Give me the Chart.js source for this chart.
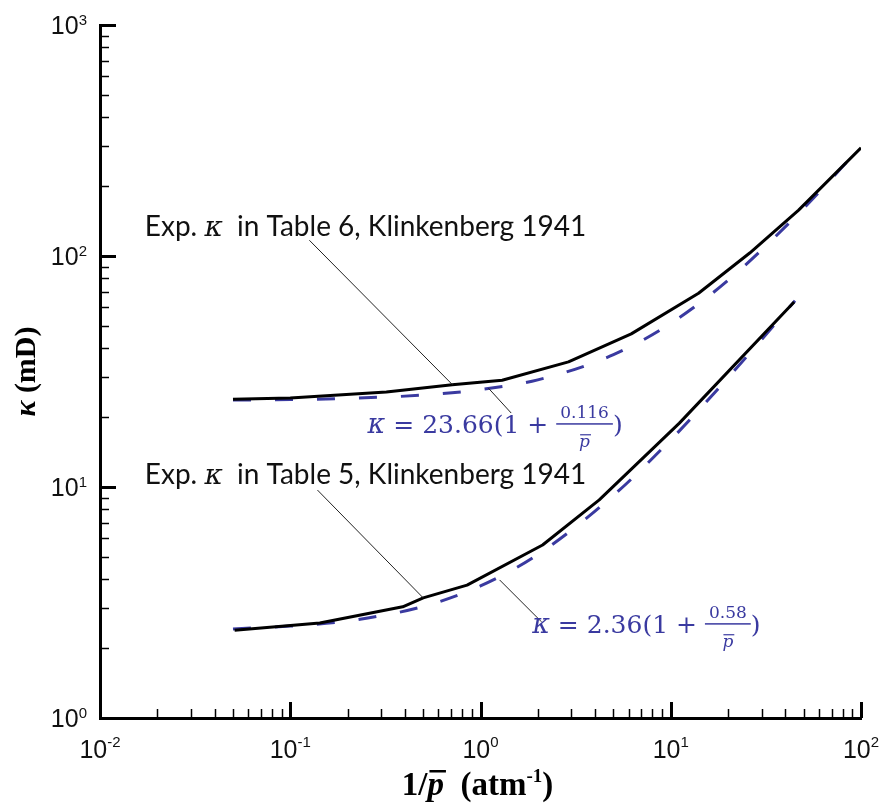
<!DOCTYPE html>
<html>
<head>
<meta charset="utf-8">
<script src="https://cdn.jsdelivr.net/npm/chart.js@4.4.0/dist/chart.umd.min.js"></script>
<style>
  html, body { margin: 0; padding: 0; background: #fff; }
  #wrap { width: 881px; height: 805px; }
</style>
</head>
<body>
<div id="wrap"><canvas id="chart" width="881" height="805"></canvas></div>
<script>
// experimental kappa, Table 6 (upper curve)
const exp6X = [0.05, 0.1, 0.32, 0.71, 1.3, 2.9, 6.2, 14, 26, 47, 100];
const exp6Y = [24.0, 24.3, 25.8, 27.7, 29.0, 34.8, 46, 69, 103, 158, 294];
// fitted line k = 23.66(1 + 0.116/p)
const fit6X = [0.05, 0.1, 0.2, 0.5, 1, 2, 5, 10, 20, 50, 100];
const fit6Y = [23.8, 23.9, 24.2, 25.0, 26.4, 29.1, 37.4, 51.1, 78.5, 161, 298];
// experimental kappa, Table 5 (lower curve)
const exp5X = [0.051, 0.143, 0.39, 0.50, 0.85, 2.12, 4.21, 11.1, 44.5];
const exp5Y = [2.40, 2.58, 3.03, 3.31, 3.76, 5.61, 8.79, 18.9, 63.2];
// fitted line k = 2.36(1 + 0.58/p)
const fit5X = [0.05, 0.1, 0.2, 0.5, 1, 2, 5, 10, 20, 45];
const fit5Y = [2.43, 2.50, 2.63, 3.04, 3.73, 5.10, 9.2, 16.0, 29.7, 64];

// tick labels (10^exp)
const xTicks = [0.01, 0.1, 1, 10, 100];
const xTickExp = ['-2', '-1', '0', '1', '2'];
const yTicks = [1, 10, 100, 1000];
const yTickExp = ['0', '1', '2', '3'];

const blue = '#3a3aa0';
const pts = (xs, ys) => xs.map((x, i) => ({ x, y: ys[i] }));

// ticks point inward, majors longer
const axisDecor = {
  id: 'axisDecor',
  afterDraw(chart) {
    const { ctx, chartArea: a, scales: { x, y } } = chart;
    ctx.save();
    ctx.strokeStyle = '#000';
    for (let e = -2; e <= 2; e++) {
      for (let k = 1; k <= 9; k++) {
        const v = k * Math.pow(10, e);
        if (v > 100.0001) break;
        const px = Math.round(x.getPixelForValue(v)) + 0.5;
        ctx.lineWidth = k === 1 ? 3 : 1.5;
        ctx.beginPath();
        ctx.moveTo(px, a.bottom);
        ctx.lineTo(px, a.bottom - (k === 1 ? 16 : 9));
        ctx.stroke();
      }
    }
    for (let e = 0; e <= 3; e++) {
      for (let k = 1; k <= 9; k++) {
        const v = k * Math.pow(10, e);
        if (v > 1000.001) break;
        const py = Math.round(y.getPixelForValue(v)) + 0.5;
        ctx.lineWidth = k === 1 ? 3 : 1.5;
        ctx.beginPath();
        ctx.moveTo(a.left, py);
        ctx.lineTo(a.left + (k === 1 ? 16 : 9), py);
        ctx.stroke();
      }
    }

    // tick labels
    ctx.fillStyle = '#111';
    ctx.textBaseline = 'alphabetic';
    const big = '25px "Liberation Sans", Arial, sans-serif';
    const small = '15px "Liberation Sans", Arial, sans-serif';
    xTicks.forEach((v, i) => {
      const px = x.getPixelForValue(v);
      ctx.font = big;
      const w1 = ctx.measureText('10').width;
      ctx.font = small;
      const w2 = ctx.measureText(xTickExp[i]).width;
      const x0 = px - (w1 + w2) / 2;
      ctx.font = big;
      ctx.fillText('10', x0, a.bottom + 40);
      ctx.font = small;
      ctx.fillText(xTickExp[i], x0 + w1, a.bottom + 29);
    });
    yTicks.forEach((v, i) => {
      const py = y.getPixelForValue(v);
      ctx.font = small;
      const w2 = ctx.measureText(yTickExp[i]).width;
      ctx.font = big;
      const w1 = ctx.measureText('10').width;
      const x0 = a.left - 13 - w1 - w2;
      ctx.fillText('10', x0, py + 9);
      ctx.font = small;
      ctx.fillText(yTickExp[i], x0 + w1, py);
    });

    // axis titles
    ctx.fillStyle = '#000';
    ctx.save();
    ctx.translate(27, (a.top + a.bottom) / 2);
    ctx.rotate(-Math.PI / 2);
    ctx.textBaseline = 'middle';
    ctx.font = 'italic bold 30px "Liberation Serif", serif';
    const wk = ctx.measureText('κ').width;
    ctx.font = 'bold 30px "Liberation Serif", serif';
    const wr = ctx.measureText(' (mD)').width;
    let tx = -(wk + wr) / 2;
    ctx.font = 'italic bold 30px "Liberation Serif", serif';
    ctx.fillText('κ', tx, 0);
    ctx.font = 'bold 30px "Liberation Serif", serif';
    ctx.fillText(' (mD)', tx + wk, 0);
    ctx.restore();

    const seg = [
      ['1/', 'bold 33px "Liberation Serif", serif', 0],
      ['p', 'italic bold 33px "Liberation Serif", serif', 0],
      ['  (atm', 'bold 33px "Liberation Serif", serif', 0],
      ['-1', 'bold 19px "Liberation Serif", serif', -13],
      [')', 'bold 33px "Liberation Serif", serif', 0],
    ];
    let total = 0;
    seg.forEach(s => { ctx.font = s[1]; total += ctx.measureText(s[0]).width; });
    let sx = (a.left + a.right) / 2 - 3 - total / 2;
    const base = 795;
    seg.forEach(s => {
      ctx.font = s[1];
      const w = ctx.measureText(s[0]).width;
      ctx.fillText(s[0], sx, base + s[2]);
      if (s[0] === 'p') ctx.fillRect(sx + 2, base - 25, w, 2.5);
      sx += w;
    });
    ctx.restore();
  }
};

// text labels with leader lines, anchored in data coordinates
const notes = [
  { kind: 'exp', table: '6', at: [0.0172, 122], from: [0.126, 117], to: [0.713, 27.7] },
  { kind: 'fit', coef: '23.66', num: '0.116', at: [0.255, 17.1], from: [1.10, 26.8], to: [1.45, 20.9] },
  { kind: 'exp', table: '5', at: [0.0172, 10.3], from: [0.139, 9.7], to: [0.50, 3.31] },
  { kind: 'fit', coef: '2.36', num: '0.58', at: [1.87, 2.33], from: [1.26, 3.96], to: [2.09, 2.61] },
];

function drawExpLabel(ctx, x, y, table) {
  ctx.fillStyle = '#111';
  ctx.font = '28px Lato, sans-serif';
  let s = 'Exp. ';
  ctx.fillText(s, x, y); x += ctx.measureText(s).width;
  ctx.font = 'italic 28px "DejaVu Serif", serif';
  ctx.fillText('κ', x, y); x += ctx.measureText('κ').width;
  ctx.font = '28px Lato, sans-serif';
  ctx.fillText('  in Table ' + table + ', Klinkenberg 1941', x, y);
}

function drawFitLabel(ctx, x, y, coef, num) {
  ctx.fillStyle = blue;
  ctx.font = 'italic 27px "DejaVu Serif", serif';
  ctx.fillText('κ', x, y); x += ctx.measureText('κ').width;
  ctx.font = '25px "DejaVu Serif", serif';
  const s = ' = ' + coef + '(1 + ';
  ctx.fillText(s, x, y); x += ctx.measureText(s).width;
  ctx.font = '17px "DejaVu Serif", serif';
  const nw = ctx.measureText(num).width;
  const fw = nw + 8;
  ctx.fillText(num, x + (fw - nw) / 2, y - 15);
  ctx.fillRect(x, y - 10, fw, 1.5);
  ctx.font = 'italic 17px "DejaVu Serif", serif';
  const pw = ctx.measureText('p').width;
  ctx.fillText('p', x + (fw - pw) / 2, y + 14);
  ctx.fillRect(x + (fw - pw) / 2 + 1, y + 1, pw, 1.2);
  x += fw;
  ctx.font = '25px "DejaVu Serif", serif';
  ctx.fillText(')', x, y);
}

const annotate = {
  id: 'annotate',
  afterDraw(chart) {
    const { ctx, scales: { x, y } } = chart;
    ctx.save();
    ctx.textBaseline = 'alphabetic';
    notes.forEach(n => {
      ctx.strokeStyle = '#222';
      ctx.lineWidth = 1;
      ctx.beginPath();
      ctx.moveTo(x.getPixelForValue(n.from[0]), y.getPixelForValue(n.from[1]));
      ctx.lineTo(x.getPixelForValue(n.to[0]), y.getPixelForValue(n.to[1]));
      ctx.stroke();
      const tx = x.getPixelForValue(n.at[0]);
      const ty = y.getPixelForValue(n.at[1]);
      if (n.kind === 'exp') drawExpLabel(ctx, tx, ty, n.table);
      else drawFitLabel(ctx, tx, ty, n.coef, n.num);
    });
    ctx.restore();
  }
};

const ctx = document.getElementById('chart').getContext('2d');
new Chart(ctx, {
  type: 'line',
  data: {
    datasets: [
      { label: 'Exp. Table 6', data: pts(exp6X, exp6Y), borderColor: '#000', borderWidth: 3, pointRadius: 0, tension: 0, borderJoinStyle: 'round' },
      { label: 'Exp. Table 5', data: pts(exp5X, exp5Y), borderColor: '#000', borderWidth: 3, pointRadius: 0, tension: 0, borderJoinStyle: 'round' },
      { label: 'Fit Table 6', data: pts(fit6X, fit6Y), borderColor: blue, borderWidth: 3, borderDash: [18, 24], pointRadius: 0, cubicInterpolationMode: 'monotone' },
      { label: 'Fit Table 5', data: pts(fit5X, fit5Y), borderColor: blue, borderWidth: 3, borderDash: [18, 24], pointRadius: 0, cubicInterpolationMode: 'monotone' },
    ],
  },
  options: {
    responsive: false,
    animation: false,
    layout: { padding: { top: 25, right: 20, left: 0, bottom: 0 } },
    plugins: { legend: { display: false }, tooltip: { enabled: false } },
    scales: {
      x: {
        type: 'logarithmic', min: 0.01, max: 100,
        grid: { display: false },
        border: { display: true, color: '#000', width: 3 },
        ticks: { display: false },
        afterFit: (s) => { s.height = 87; },
      },
      y: {
        type: 'logarithmic', min: 1, max: 1000,
        grid: { display: false },
        border: { display: true, color: '#000', width: 3 },
        ticks: { display: false },
        afterFit: (s) => { s.width = 100; },
      },
    },
  },
  plugins: [axisDecor, annotate],
});
</script>
</body>
</html>
